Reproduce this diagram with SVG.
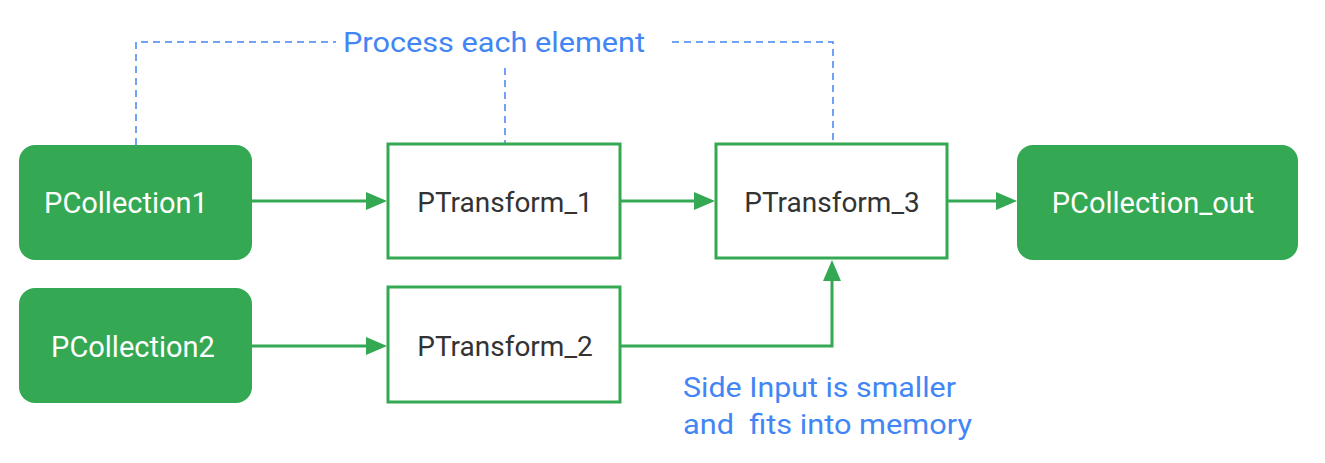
<svg xmlns="http://www.w3.org/2000/svg" width="1325" height="463" viewBox="0 0 1325 463">
<style>
.pc{fill:#34a853;}
.pt{fill:#fff;stroke:#34a853;stroke-width:3;}
.pcl{font-family:Roboto,"Liberation Sans",sans-serif;font-size:29px;fill:#fff;text-anchor:middle;}
.ptl{font-family:Roboto,"Liberation Sans",sans-serif;font-size:28px;fill:#333;text-anchor:middle;}
.conn{fill:none;stroke:#34a853;stroke-width:3;}
.dash{fill:none;stroke:#4285f4;stroke-width:1.5;stroke-dasharray:7,5;}
.note{font-family:Roboto,"Liberation Sans",sans-serif;font-size:28px;fill:#4285f4;}
</style>
<rect width="1325" height="463" fill="#fff"/>
<g id="connectors">
<path class="conn" d="M252 201H368"/>
<polygon fill="#34a853" points="366,192 387,201 366,210"/>
<path class="conn" d="M621 201H696"/>
<polygon fill="#34a853" points="694,192 715,201 694,210"/>
<path class="conn" d="M948 201H998"/>
<polygon fill="#34a853" points="996,192 1017,201 996,210"/>
<path class="conn" d="M252 346H368"/>
<polygon fill="#34a853" points="366,337 387,346 366,355"/>
<path class="conn" d="M621 346H832V280"/>
<polygon fill="#34a853" points="823,281 832,260 841,281"/>
<path class="dash" d="M136 145V42H336"/>
<path class="dash" d="M672 42H833V143"/>
<path class="dash" d="M505 68V143"/>
</g>
<g id="label-process"><text class="note" x="343" y="52" textLength="302" lengthAdjust="spacingAndGlyphs">Process each element</text></g>
<g id="label-side"><text class="note" x="683" y="397" textLength="273" lengthAdjust="spacingAndGlyphs">Side Input is smaller</text><text class="note" x="683" y="434" xml:space="preserve" textLength="289" lengthAdjust="spacingAndGlyphs">and  fits into memory</text></g>
<g id="PCollection1"><rect class="pc" x="19" y="145" width="233" height="115" rx="16"/><text class="pcl" x="126" y="213">PCollection1</text></g>
<g id="PCollection2"><rect class="pc" x="19" y="288" width="233" height="115" rx="16"/><text class="pcl" x="133" y="357">PCollection2</text></g>
<g id="PTransform_1"><rect class="pt" x="388" y="144" width="232" height="114"/><text class="ptl" x="505" y="212">PTransform_1</text></g>
<g id="PTransform_2"><rect class="pt" x="388" y="287" width="232" height="115"/><text class="ptl" x="505" y="356">PTransform_2</text></g>
<g id="PTransform_3"><rect class="pt" x="716" y="144" width="231" height="114"/><text class="ptl" x="832" y="212">PTransform_3</text></g>
<g id="PCollection_out"><rect class="pc" x="1017" y="145" width="281" height="115" rx="16"/><text class="pcl" x="1153" y="213">PCollection_out</text></g>
</svg>
